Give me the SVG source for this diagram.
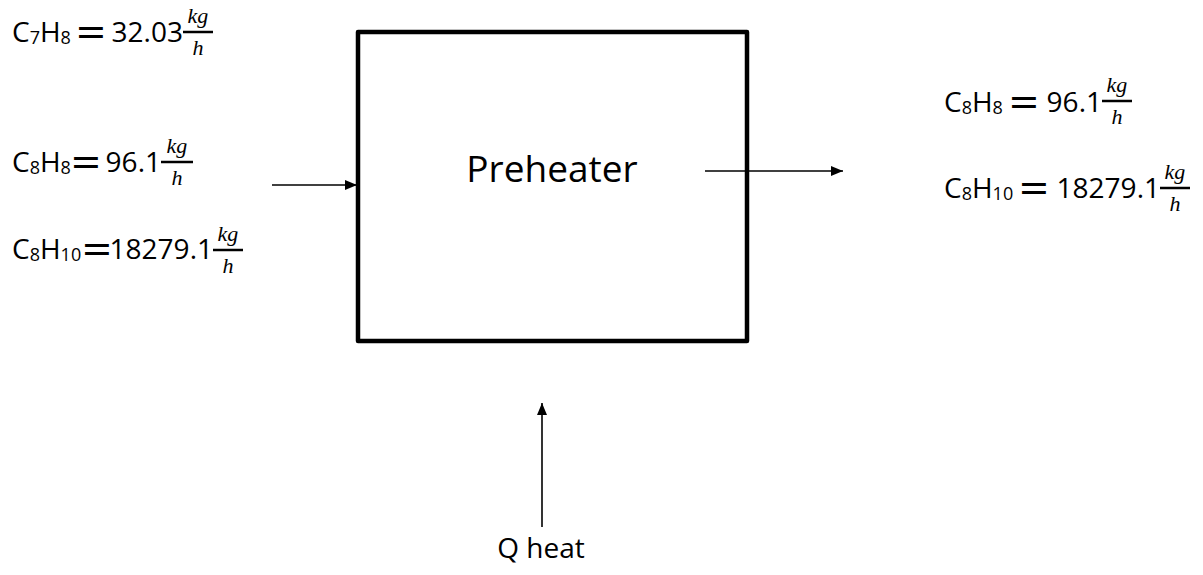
<svg xmlns="http://www.w3.org/2000/svg" width="1203" height="575" viewBox="0 0 1203 575">
<defs>
<style>
.t{font-family:"Open Sans","Liberation Sans",sans-serif;font-size:28px;fill:#000}
.s{font-size:18px}
.eq{font-family:"DejaVu Sans",sans-serif;font-size:38px;fill:#000}
.m{font-family:"Liberation Serif",serif;font-style:italic;font-size:22px;fill:#000;text-anchor:middle}
.fl{stroke:#000;stroke-width:2.5}
.c{stroke:#000;stroke-width:1.6;fill:none}
</style>
<marker id="ah" markerWidth="12" markerHeight="10" refX="12" refY="5" orient="auto" markerUnits="userSpaceOnUse">
<path d="M0,0 L12,5 L0,10 Z" fill="#000"/>
</marker>
</defs>
<rect width="1203" height="575" fill="#fff"/>
<g id="preheater">
<rect x="358" y="32" width="389" height="309" fill="#fff" stroke="#000" stroke-width="4.5" stroke-linejoin="round"/>
<text class="t" x="552" y="182" text-anchor="middle" style="font-size:37px">Preheater</text>
</g>
<g id="connectors">
<line class="c" x1="272" y1="185" x2="357" y2="185" marker-end="url(#ah)"/>
<line class="c" x1="705" y1="171" x2="843" y2="171" marker-end="url(#ah)"/>
<line class="c" x1="542" y1="527" x2="542" y2="403" marker-end="url(#ah)"/>
</g>
<g id="in-c7h8">
<text class="t" x="12" y="42">C<tspan class="s" dy="2">7</tspan><tspan dy="-2">H</tspan><tspan class="s" dy="2">8</tspan></text>
<text class="eq" x="75" y="44">=</text>
<text class="t" x="183" y="42" text-anchor="end">32.03</text>
<text class="m" x="198" y="23">kg</text>
<line class="fl" x1="183" y1="32" x2="213" y2="32"/>
<text class="m" x="198" y="55">h</text>
</g>
<g id="in-c8h8">
<text class="t" x="12" y="172">C<tspan class="s" dy="2">8</tspan><tspan dy="-2">H</tspan><tspan class="s" dy="2">8</tspan></text>
<text class="eq" x="70" y="174">=</text>
<text class="t" x="161" y="172" text-anchor="end">96.1</text>
<text class="m" x="177" y="153">kg</text>
<line class="fl" x1="161" y1="162" x2="193" y2="162"/>
<text class="m" x="177" y="185">h</text>
</g>
<g id="in-c8h10">
<text class="t" x="12" y="259">C<tspan class="s" dy="2">8</tspan><tspan dy="-2">H</tspan><tspan class="s" dy="2">10</tspan></text>
<text class="eq" x="81" y="261">=</text>
<text class="t" x="213" y="259" text-anchor="end">18279.1</text>
<text class="m" x="228" y="241">kg</text>
<line class="fl" x1="213" y1="250" x2="243" y2="250"/>
<text class="m" x="228" y="273">h</text>
</g>
<g id="out-c8h8">
<text class="t" x="944" y="112">C<tspan class="s" dy="2">8</tspan><tspan dy="-2">H</tspan><tspan class="s" dy="2">8</tspan></text>
<text class="eq" x="1008" y="114">=</text>
<text class="t" x="1102" y="112" text-anchor="end">96.1</text>
<text class="m" x="1117" y="92">kg</text>
<line class="fl" x1="1102" y1="101" x2="1132" y2="101"/>
<text class="m" x="1117" y="124">h</text>
</g>
<g id="out-c8h10">
<text class="t" x="944" y="198">C<tspan class="s" dy="2">8</tspan><tspan dy="-2">H</tspan><tspan class="s" dy="2">10</tspan></text>
<text class="eq" x="1018" y="200">=</text>
<text class="t" x="1160" y="198" text-anchor="end">18279.1</text>
<text class="m" x="1175" y="179">kg</text>
<line class="fl" x1="1160" y1="188" x2="1190" y2="188"/>
<text class="m" x="1175" y="211">h</text>
</g>
<g id="q-heat">
<text class="t" x="541" y="558" text-anchor="middle">Q heat</text>
</g>
</svg>
